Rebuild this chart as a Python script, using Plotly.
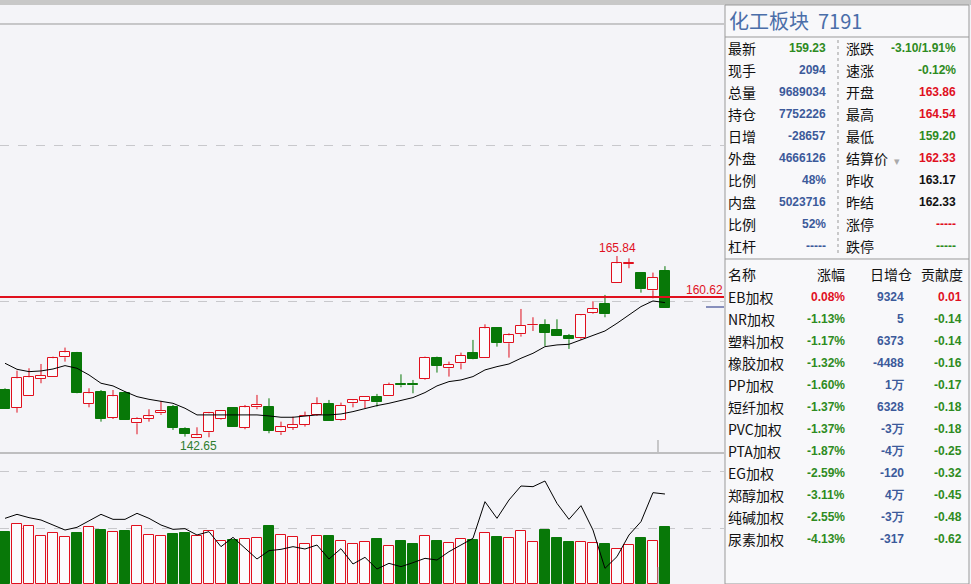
import plotly.graph_objects as go

W, H = 971, 584

# daily candles
opens = [148.74, 146.49, 148.02, 150.19, 150.45, 152.91, 153.47, 146.96, 148.49, 145.17,
         148.36, 144.49, 145.09, 145.77, 146.58, 143.77, 142.66, 143.34, 145.00, 146.41,
         143.94, 146.53, 146.58, 143.34, 143.94, 144.28, 145.60, 146.96, 144.92, 147.04,
         147.38, 147.89, 147.98, 149.51, 149.51, 150.11, 152.83, 151.51, 152.15, 153.47,
         152.79, 156.61, 154.70, 155.85, 157.00, 157.00, 156.40, 155.64, 155.34, 158.53,
         159.72, 162.36, 164.82, 163.63, 161.46, 163.86]
highs = [148.96, 151.21, 151.51, 152.06, 153.00, 154.15, 153.60, 148.96, 148.74, 148.74,
         148.53, 145.26, 146.28, 147.34, 146.83, 143.98, 143.98, 145.94, 146.19, 146.49,
         146.83, 148.11, 147.68, 144.70, 145.34, 145.98, 147.81, 147.47, 147.13, 147.47,
         147.95, 148.24, 149.68, 150.74, 150.02, 153.00, 153.00, 152.36, 153.51, 155.13,
         157.12, 156.70, 155.98, 159.08, 158.02, 157.76, 157.76, 155.89, 158.32, 160.06,
         160.87, 165.84, 165.54, 163.63, 163.72, 164.54]
lows = [146.32, 145.85, 148.02, 149.60, 150.45, 152.36, 148.32, 146.53, 144.70, 145.04,
        144.96, 143.09, 144.70, 145.56, 143.64, 142.79, 142.65, 142.71, 144.92, 144.07,
        143.73, 146.28, 143.22, 143.00, 143.64, 144.07, 145.43, 144.83, 144.83, 146.53,
        146.41, 146.62, 147.98, 149.09, 148.32, 150.02, 150.96, 150.45, 151.38, 152.66,
        152.79, 154.27, 152.87, 155.55, 156.27, 154.36, 155.64, 153.98, 155.13, 158.44,
        158.02, 162.36, 164.27, 161.16, 160.44, 159.20]
closes = [146.32, 150.23, 150.36, 150.53, 152.79, 153.55, 148.40, 148.32, 145.04, 147.94,
          144.96, 145.04, 145.38, 146.07, 143.94, 143.17, 142.96, 145.77, 146.11, 144.07,
          146.53, 146.87, 143.56, 143.98, 144.28, 145.43, 146.92, 144.83, 146.75, 147.43,
          147.89, 147.17, 149.38, 149.34, 149.34, 152.83, 151.81, 151.94, 153.08, 152.74,
          156.61, 154.78, 155.72, 156.95, 157.08, 156.06, 155.64, 155.21, 158.27, 159.04,
          158.40, 164.91, 164.99, 161.59, 163.08, 159.23]
ma = [152.15, 151.38, 151.08, 151.17, 151.42, 151.85, 151.51, 150.66, 149.60, 149.26,
      148.53, 147.89, 147.55, 147.34, 147.04, 146.41, 145.56, 145.56, 145.56, 145.56,
      145.56, 145.56, 145.43, 145.26, 145.26, 145.43, 145.56, 145.56, 145.68, 145.98,
      146.41, 146.75, 147.04, 147.38, 147.77, 148.41, 149.26, 149.81, 150.02, 150.45,
      151.30, 151.72, 152.06, 152.79, 153.42, 154.27, 154.49, 154.57, 155.13, 155.76,
      156.27, 157.25, 158.32, 159.38, 160.10, 159.89]
volume = [156, 179, 173, 143, 152, 140, 153, 170, 162, 155,
          159, 173, 146, 143, 150, 153, 143, 159, 128, 132,
          134, 137, 174, 146, 140, 119, 143, 144, 128, 119,
          125, 135, 113, 129, 120, 143, 129, 122, 134, 132,
          152, 141, 137, 159, 125, 162, 138, 126, 125, 122,
          120, 105, 116, 138, 129, 171]
oi = [197, 209, 199, 192, 177, 162, 170, 190, 209, 194,
      194, 212, 197, 177, 164, 166, 147, 157, 112, 140,
      107, 75, 100, 104, 112, 105, 117, 75, 106, 60,
      80, 45, 62, 52, 64, 77, 72, 97, 117, 137,
      247, 197, 252, 294, 292, 309, 242, 194, 235, 162,
      47, 82, 147, 187, 274, 270]

x = list(range(len(closes)))
up = [i for i in x if closes[i] >= opens[i]]
dn = [i for i in x if closes[i] < opens[i]]

RED = '#e0101e'
GREEN = '#087808'
BG = '#f4f4f8'
HOLLOW = '#fbfbfd'
BW = 0.78


def wicks(idx):
    wx, wy = [], []
    for i in idx:
        top, bot = max(opens[i], closes[i]), min(opens[i], closes[i])
        wx += [i, i, None, i, i, None]
        wy += [highs[i], top, None, bot, lows[i], None]
    return wx, wy


fig = go.Figure()
for idx, col, fill in [(up, RED, HOLLOW), (dn, GREEN, GREEN)]:
    wx, wy = wicks(idx)
    fig.add_trace(go.Scatter(x=wx, y=wy, mode='lines', line=dict(color=col, width=1),
                             showlegend=False, hoverinfo='skip'))
    fig.add_trace(go.Bar(x=idx, base=[min(opens[i], closes[i]) for i in idx],
                         y=[max(abs(closes[i] - opens[i]), 0.06) for i in idx], width=BW,
                         marker=dict(color=fill, line=dict(color=col, width=1)),
                         showlegend=False, hoverinfo='skip'))
fig.add_trace(go.Scatter(x=x, y=ma, mode='lines', line=dict(color='black', width=1),
                         showlegend=False, hoverinfo='skip'))
fig.add_trace(go.Bar(x=up, y=[volume[i] for i in up], xaxis='x2', yaxis='y2', width=BW,
                     marker=dict(color=HOLLOW, line=dict(color=RED, width=1)), showlegend=False))
fig.add_trace(go.Bar(x=dn, y=[volume[i] for i in dn], xaxis='x2', yaxis='y2', width=BW,
                     marker=dict(color=GREEN, line=dict(color=GREEN, width=1)), showlegend=False))
fig.add_trace(go.Scatter(x=x, y=oi, xaxis='x2', yaxis='y2', mode='lines',
                         line=dict(color='black', width=1), showlegend=False))

xr = [-0.417, 59.92]
dom = [0, 724 / W]
ax = dict(range=xr, domain=dom, showgrid=False, showticklabels=False, zeroline=False,
          ticks='', fixedrange=True)
fig.update_layout(
    width=W, height=H, margin=dict(l=0, r=0, t=0, b=0),
    paper_bgcolor=BG, plot_bgcolor=BG, bargap=0, barmode='overlay',
    xaxis=ax, xaxis2=dict(ax, anchor='y2'),
    yaxis=dict(domain=[1 - 453 / H, 1 - 24 / H], range=[140.70, 195.44], tickvals=[160, 180],
               showticklabels=False, gridcolor='#c8c8cc', griddash='dash', zeroline=False),
    yaxis2=dict(domain=[0, 1 - 454 / H], range=[0, 390], tickvals=[168, 339],
                showticklabels=False, gridcolor='#c8c8cc', griddash='dash', zeroline=False),
)


def px(v):
    return v / W


def py(v):
    return 1 - v / H


shapes = [
    dict(type='line', xref='x', yref='y', x0=xr[0], x1=xr[1], y0=160.62, y1=160.62,
         line=dict(color=RED, width=2)),
    dict(type='line', xref='paper', yref='paper', x0=px(706), x1=px(724), y0=py(307), y1=py(307),
         line=dict(color='#1a2a80', width=1)),
    dict(type='line', xref='paper', yref='paper', x0=px(658), x1=px(658), y0=py(440), y1=py(452),
         line=dict(color='#999', width=1)),
    dict(type='line', xref='paper', yref='paper', x0=px(658), x1=px(658), y0=py(567), y1=py(584),
         line=dict(color='#999', width=1)),
    dict(type='rect', xref='paper', yref='paper', x0=0, x1=1, y0=py(5), y1=1,
         fillcolor='#c8c8c8', line=dict(width=0)),
    dict(type='line', xref='paper', yref='paper', x0=0, x1=px(724), y0=py(24), y1=py(24),
         line=dict(color='#999', width=1)),
    dict(type='line', xref='paper', yref='paper', x0=0, x1=px(724), y0=py(453), y1=py(453),
         line=dict(color='#888', width=1)),
    dict(type='rect', xref='paper', yref='paper', x0=px(725), x1=px(969), y0=0, y1=py(5),
         fillcolor='#f8f8fa', line=dict(color='#999', width=1)),
    dict(type='line', xref='paper', yref='paper', x0=px(725), x1=px(969), y0=py(37), y1=py(37),
         line=dict(color='#999', width=1)),
    dict(type='line', xref='paper', yref='paper', x0=px(725), x1=px(969), y0=py(259), y1=py(259),
         line=dict(color='#999', width=1)),
    dict(type='line', xref='paper', yref='paper', x0=px(838), x1=px(838), y0=py(40), y1=py(256),
         line=dict(color='#999', width=1, dash='dot')),
]
fig.update_layout(shapes=shapes)

ann = []
LBL = dict(family='Noto Sans CJK SC', size=14, color='#111')
NUM = dict(family='Liberation Sans', size=12, color='#3c5a9a')


def text(x0, y0, s, font, anchor='left'):
    ann.append(dict(x=px(x0), y=py(y0), xref='paper', yref='paper', text=s, showarrow=False,
                    xanchor=anchor, yanchor='middle', font=font))


text(178, 446, '142.65', dict(family='Liberation Sans', size=12, color='#2e7d2e'))
text(597, 248, '165.84', dict(family='Liberation Sans', size=12, color=RED))
text(684, 290, '160.62', dict(family='Liberation Sans', size=12, color=RED))
text(727, 21, '化工板块  7191', dict(family='Noto Sans CJK SC', size=20, color='#4a6ea9'))

info_left = ['最新', '现手', '总量', '持仓', '日增', '外盘', '比例', '内盘', '比例', '杠杆']
info_left_val = ['159.23', '2094', '9689034', '7752226', '-28657', '4666126', '48%', '5023716', '52%', '-----']
info_left_col = ['#2e8b22'] + ['#3c5a9a'] * 9
info_right = ['涨跌', '速涨', '开盘', '最高', '最低', '结算价', '昨收', '昨结', '涨停', '跌停']
info_right_val = ['-3.10/1.91%', '-0.12%', '163.86', '164.54', '159.20', '162.33', '163.17', '162.33', '-----', '-----']
info_right_col = ['#2e8b22', '#2e8b22', RED, RED, '#2e8b22', RED, '#111', '#111', RED, '#2e8b22']

for i in range(len(info_left)):
    yy = 48.5 + i * 21.9
    text(726, yy, info_left[i], LBL)
    text(828, yy, '<b>%s</b>' % info_left_val[i], dict(NUM, color=info_left_col[i]), 'right')
    text(844, yy, info_right[i], LBL)
    text(958, yy, '<b>%s</b>' % info_right_val[i], dict(NUM, color=info_right_col[i]), 'right')
text(892, 160, '▾', dict(size=11, color='#aaa'))

names = ['EB加权', 'NR加权', '塑料加权', '橡胶加权', 'PP加权', '短纤加权', 'PVC加权', 'PTA加权',
         'EG加权', '郑醇加权', '纯碱加权', '尿素加权']
chg = ['0.08%', '-1.13%', '-1.17%', '-1.32%', '-1.60%', '-1.37%', '-1.37%', '-1.87%',
       '-2.59%', '-3.11%', '-2.55%', '-4.13%']
oi_add = ['9324', '5', '6373', '-4488', '1万', '6328', '-3万', '-4万', '-120', '4万', '-3万', '-317']
contrib = ['0.01', '-0.14', '-0.14', '-0.16', '-0.17', '-0.18', '-0.18', '-0.25',
           '-0.32', '-0.45', '-0.48', '-0.62']

text(726, 274, '名称', LBL)
text(847, 274, '涨幅', LBL, 'right')
text(914, 274, '日增仓', LBL, 'right')
text(965, 274, '贡献度', LBL, 'right')
for i in range(len(names)):
    yy = 297 + i * 22
    c = RED if i == 0 else '#2e8b22'
    text(726, yy, names[i], LBL)
    text(847, yy, '<b>%s</b>' % chg[i], dict(NUM, color=c), 'right')
    text(906, yy, '<b>%s</b>' % oi_add[i], NUM, 'right')
    text(964, yy, '<b>%s</b>' % contrib[i], dict(NUM, color=c), 'right')

fig.update_layout(annotations=ann)
fig.write_html("out.html", config={'displayModeBar': False},
               post_script="document.body.style.margin='0';document.body.style.overflow='hidden';")
